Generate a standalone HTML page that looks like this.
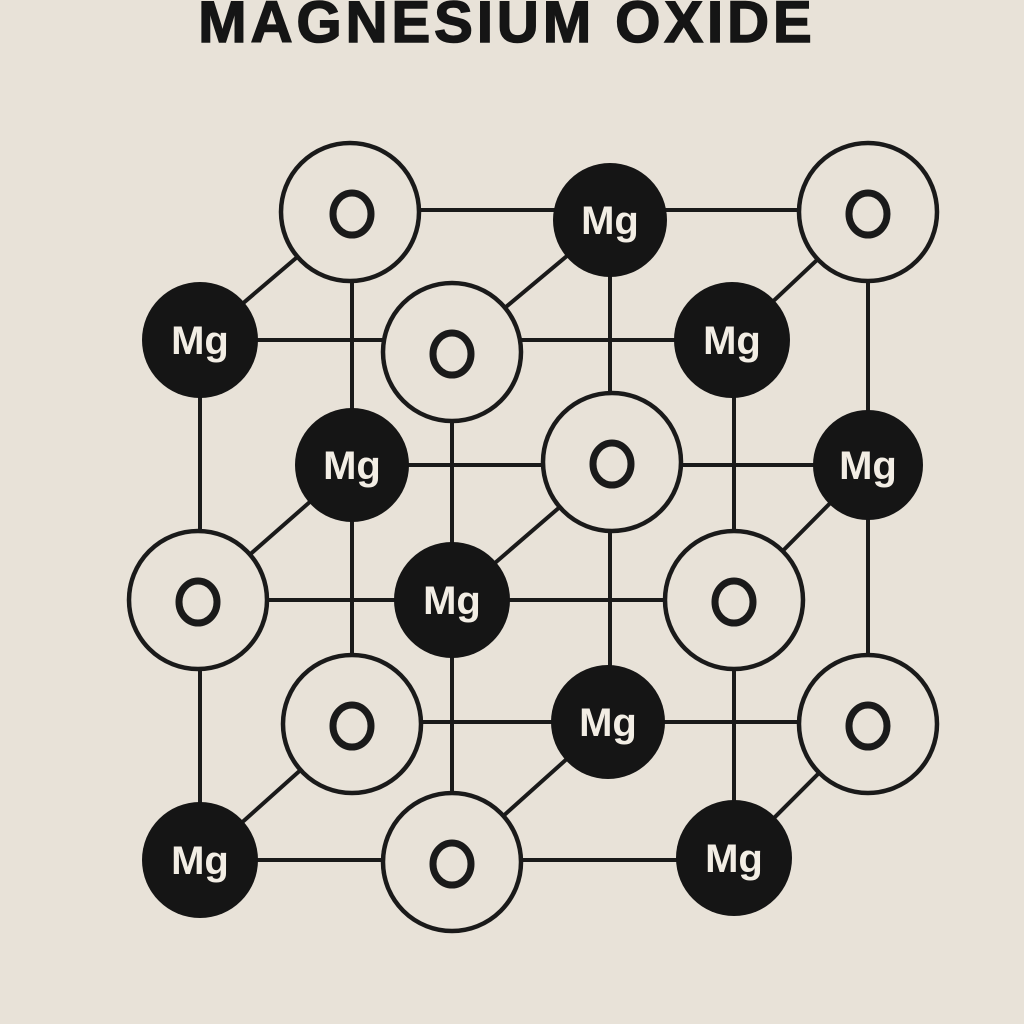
<!DOCTYPE html>
<html><head><meta charset="utf-8"><style>
html,body{margin:0;padding:0;background:#e8e2d8;}
svg{display:block}
</style></head><body>
<svg width="1024" height="1024" viewBox="0 0 1024 1024" xmlns="http://www.w3.org/2000/svg">
<rect width="1024" height="1024" fill="#e8e2d8"/>
<text x="507" y="42" text-anchor="middle" font-family="Liberation Sans, sans-serif" font-weight="900" font-size="58" letter-spacing="4" fill="#151515" stroke="#151515" stroke-width="1.5">MAGNESIUM OXIDE</text>
<g stroke="#1a1a1a" stroke-width="4" stroke-linecap="round" fill="none">
<line x1="350" y1="210" x2="868" y2="210"/>
<line x1="200" y1="340" x2="732" y2="340"/>
<line x1="352" y1="465" x2="868" y2="465"/>
<line x1="198" y1="600" x2="734" y2="600"/>
<line x1="352" y1="722" x2="868" y2="722"/>
<line x1="200" y1="860" x2="734" y2="860"/>
<line x1="352" y1="212" x2="352" y2="724"/>
<line x1="200" y1="340" x2="200" y2="860"/>
<line x1="610" y1="220" x2="610" y2="722"/>
<line x1="452" y1="352" x2="452" y2="862"/>
<line x1="868" y1="212" x2="868" y2="724"/>
<line x1="734" y1="340" x2="734" y2="858"/>
<line x1="350" y1="212" x2="200" y2="340"/>
<line x1="610" y1="220" x2="452" y2="352"/>
<line x1="868" y1="212" x2="732" y2="340"/>
<line x1="352" y1="465" x2="198" y2="600"/>
<line x1="612" y1="462" x2="452" y2="600"/>
<line x1="868" y1="465" x2="734" y2="600"/>
<line x1="352" y1="724" x2="200" y2="860"/>
<line x1="608" y1="722" x2="452" y2="862"/>
<line x1="868" y1="724" x2="734" y2="858"/>
</g>
<g fill="#e8e2d8" stroke="#1a1a1a" stroke-width="4.5">
<circle cx="350" cy="212" r="69"/><circle cx="868" cy="212" r="69"/>
<circle cx="452" cy="352" r="69"/><circle cx="612" cy="462" r="69"/>
<circle cx="198" cy="600" r="69"/><circle cx="734" cy="600" r="69"/>
<circle cx="352" cy="724" r="69"/><circle cx="868" cy="724" r="69"/>
<circle cx="452" cy="862" r="69"/>
</g>
<g fill="none" stroke="#1a1a1a" stroke-width="7">
<ellipse cx="352" cy="214" rx="19" ry="21"/><ellipse cx="868" cy="214" rx="19" ry="21"/>
<ellipse cx="452" cy="354" rx="19" ry="21"/><ellipse cx="612" cy="464" rx="19" ry="21"/>
<ellipse cx="198" cy="602" rx="19" ry="21"/><ellipse cx="734" cy="602" rx="19" ry="21"/>
<ellipse cx="352" cy="726" rx="19" ry="21"/><ellipse cx="868" cy="726" rx="19" ry="21"/>
<ellipse cx="452" cy="864" rx="19" ry="21"/>
</g>
<g fill="#151515">
<circle cx="610" cy="220" r="57"/><circle cx="200" cy="340" r="58"/>
<circle cx="732" cy="340" r="58"/><circle cx="352" cy="465" r="57"/>
<circle cx="868" cy="465" r="55"/><circle cx="452" cy="600" r="58"/>
<circle cx="608" cy="722" r="57"/><circle cx="200" cy="860" r="58"/>
<circle cx="734" cy="858" r="58"/>
</g>
<g fill="#f2ede4" font-family="Liberation Sans, sans-serif" font-weight="600" font-size="40" text-anchor="middle">
<text x="610" y="234">Mg</text><text x="200" y="354">Mg</text>
<text x="732" y="354">Mg</text><text x="352" y="479">Mg</text>
<text x="868" y="479">Mg</text><text x="452" y="614">Mg</text>
<text x="608" y="736">Mg</text><text x="200" y="874">Mg</text>
<text x="734" y="872">Mg</text>
</g>
<text x="-100" y="-100" font-size="10">O</text>
</svg>
</body></html>
